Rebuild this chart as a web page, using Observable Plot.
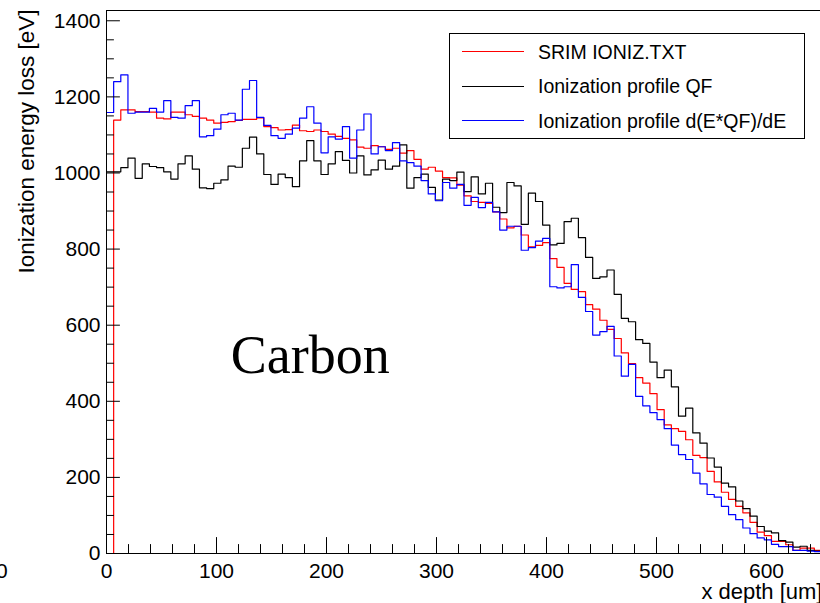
<!DOCTYPE html>
<html>
<head>
<meta charset="utf-8">
<script src="https://cdn.jsdelivr.net/npm/d3@7"></script>
<script src="https://cdn.jsdelivr.net/npm/@observablehq/plot@0.6"></script>
<style>
  html, body { margin: 0; padding: 0; background: #fff; }
  #wrap { position: relative; width: 820px; height: 603px; overflow: hidden; font-family: "Liberation Sans", Arial, sans-serif; }
  #legend { position: absolute; left: 449px; top: 33px; width: 356px; height: 106px; border: 1px solid #000; box-sizing: border-box; background: #fff; }
  .row { position: absolute; left: 0; right: 0; height: 24px; }
  .sw { position: absolute; left: 12px; width: 62px; top: 11.5px; height: 1.2px; }
  .lab { position: absolute; left: 88px; top: 0; font-size: 19.5px; line-height: 24px; white-space: nowrap; color: #000; }
  #stray { position: absolute; left: -4px; top: 560px; font-size: 21px; line-height: 21px; color: #000; }
</style>
</head>
<body>
<div id="wrap">
  <div id="chart"></div>
  <div id="legend"></div>
  <div id="stray">0</div>
</div>
<script>
// ---- data ----
const xMin = 0, xMax = 650, nBins = 100;

const srimIoniz = [0,1139,1166,1166,1161,1161,1160,1144,1142,1160,
  1160,1153,1149,1144,1139,1131,1133,1135,1138,1141,
  1141,1145,1122,1119,1113,1114,1126,1111,1109,1113,
  1109,1102,1096,1091,1087,1068,1065,1072,1069,1062,
  1065,1052,1059,1036,1010,1015,1005,988,987,968,
  940,925,923,920,898,879,856,860,837,806,
  810,817,775,752,710,694,688,654,642,613,
  589,565,527,499,462,448,420,378,338,328,
  321,299,258,252,216,188,161,142,124,107,
  82,56,47,32,32,23,8,14,14,8];

const profileQF = [1003,1003,1014,1039,986,1024,1017,1014,1003,984,
  1024,1045,1010,961,959,973,982,1018,1015,1065,
  1094,1050,996,970,997,988,964,1032,1085,1032,
  996,1024,1056,1033,1000,1045,995,1008,1034,1010,
  1018,1074,960,988,997,962,929,984,980,1002,
  951,990,945,973,910,896,975,966,865,947,
  925,863,811,815,872,881,830,778,723,727,
  745,681,618,609,562,552,503,462,482,438,
  361,382,317,290,251,227,185,175,138,118,
  98,71,59,54,34,30,17,19,8,6];

const profileDQF = [1159,1240,1258,1157,1160,1160,1170,1160,1190,1146,
  1144,1177,1190,1095,1098,1115,1153,1157,1139,1220,
  1243,1146,1125,1098,1091,1102,1118,1144,1174,1131,
  1053,1095,1089,1122,1039,1113,1155,1050,1069,1059,
  1080,1032,1027,1018,980,945,927,975,960,970,
  915,936,909,923,898,850,860,860,797,804,
  821,828,701,698,701,759,673,636,574,583,
  597,519,466,497,413,388,370,352,328,285,
  260,247,211,183,155,148,124,102,89,67,
  52,41,36,24,18,18,8,8,6,5];

const seriesNames = ["SRIM IONIZ.TXT", "Ionization profile QF", "Ionization profile d(E*QF)/dE"];
const seriesColors = ["#ff0000", "#000000", "#0000ff"];
const seriesValues = [srimIoniz, profileQF, profileDQF];

const xMajorTicks = [0, 100, 200, 300, 400, 500, 600];
const xMinorTicks = d3.range(20, 650, 20).filter(v => v % 100 !== 0);
const yMajorTicks = [0, 200, 400, 600, 800, 1000, 1200, 1400];
const yMinorTicks = d3.range(50, 1427, 50).filter(v => v % 200 !== 0);
const yMax = 1427;

const xTitle = "x depth [um]";
const yTitle = "Ionization energy loss [eV]";
const annotation = {text: "Carbon", x: 113, y: 474};

// ---- build step outlines from bins ----
const binW = (xMax - xMin) / nBins;
function steps(values) {
  const pts = values.map((v, i) => ({x: xMin + i * binW, y: v}));
  pts.push({x: xMax, y: values[values.length - 1]});
  return pts;
}

const tickUp = {draw(ctx, l) { ctx.moveTo(0, 0); ctx.lineTo(0, -l); }};
const tickRight = {draw(ctx, l) { ctx.moveTo(0, 0); ctx.lineTo(l, 0); }};

const font = "Liberation Sans, Arial, sans-serif";

const chart = Plot.plot({
  width: 820,
  height: 603,
  marginLeft: 106,
  marginRight: -1,
  marginTop: 10,
  marginBottom: 50,
  style: {fontFamily: font, background: "white", color: "black"},
  x: {domain: [xMin, xMax]},
  y: {domain: [0, yMax]},
  marks: [
    ...seriesValues.map((vals, k) =>
      Plot.line(steps(vals), {x: "x", y: "y", curve: "step-after", stroke: seriesColors[k], strokeWidth: 1.2})
    ),
    Plot.text([annotation], {x: "x", y: "y", text: "text", fontFamily: "Liberation Serif, Times New Roman, serif", fontSize: 54, textAnchor: "start", lineAnchor: "bottom", fill: "black"}),
    Plot.frame({stroke: "black", strokeWidth: 1}),
    Plot.vector(xMajorTicks, {x: d => d, frameAnchor: "bottom", length: 16, shape: tickUp, anchor: "start", stroke: "black", strokeWidth: 1}),
    Plot.vector(xMinorTicks, {x: d => d, frameAnchor: "bottom", length: 9, shape: tickUp, anchor: "start", stroke: "black", strokeWidth: 1}),
    Plot.vector(yMajorTicks, {y: d => d, frameAnchor: "left", length: 13, shape: tickRight, anchor: "start", stroke: "black", strokeWidth: 1}),
    Plot.vector(yMinorTicks, {y: d => d, frameAnchor: "left", length: 7, shape: tickRight, anchor: "start", stroke: "black", strokeWidth: 1}),
    Plot.axisX({ticks: xMajorTicks, tickSize: 0, tickPadding: 10, fontSize: 21, tickFormat: d => String(d), label: null}),
    Plot.axisY({ticks: yMajorTicks, tickSize: 0, tickPadding: 6, fontSize: 21, tickFormat: d => String(d), label: null}),
    Plot.text([xTitle], {text: d => d, frameAnchor: "bottom-right", textAnchor: "end", lineAnchor: "bottom", dx: 1, dy: 45, fontSize: 22, fill: "black"}),
    Plot.text([yTitle], {text: d => d, frameAnchor: "top-left", rotate: -90, textAnchor: "end", lineAnchor: "middle", dx: -80, dy: -1, fontSize: 22.5, fill: "black"})
  ]
});
document.getElementById("chart").appendChild(chart);

// ---- legend ----
const legend = document.getElementById("legend");
const rowCenters = [17.5, 52, 86.5];
seriesNames.forEach((name, k) => {
  const row = document.createElement("div");
  row.className = "row";
  row.style.top = (rowCenters[k] - 12) + "px";
  const sw = document.createElement("div");
  sw.className = "sw";
  sw.style.background = seriesColors[k];
  const lab = document.createElement("div");
  lab.className = "lab";
  lab.textContent = name;
  row.appendChild(sw);
  row.appendChild(lab);
  legend.appendChild(row);
});
</script>
</body>
</html>
